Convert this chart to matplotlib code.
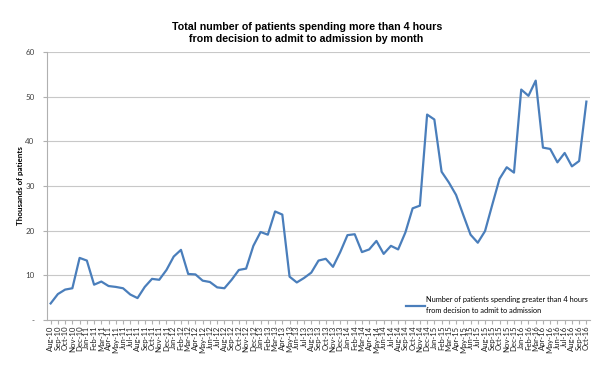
import matplotlib
matplotlib.use("Agg")
import matplotlib.pyplot as plt

months = ["Aug-10","Sep-10","Oct-10","Nov-10","Dec-10",
          "Jan-11","Feb-11","Mar-11","Apr-11","May-11","Jun-11","Jul-11","Aug-11","Sep-11","Oct-11","Nov-11","Dec-11",
          "Jan-12","Feb-12","Mar-12","Apr-12","May-12","Jun-12","Jul-12","Aug-12","Sep-12","Oct-12","Nov-12","Dec-12",
          "Jan-13","Feb-13","Mar-13","Apr-13","May-13","Jun-13","Jul-13","Aug-13","Sep-13","Oct-13","Nov-13","Dec-13",
          "Jan-14","Feb-14","Mar-14","Apr-14","May-14","Jun-14","Jul-14","Aug-14","Sep-14","Oct-14","Nov-14","Dec-14",
          "Jan-15","Feb-15","Mar-15","Apr-15","May-15","Jun-15","Jul-15","Aug-15","Sep-15","Oct-15","Nov-15","Dec-15",
          "Jan-16","Feb-16","Mar-16","Apr-16","May-16","Jun-16","Jul-16","Aug-16","Sep-16","Oct-16"]

patients = [3.7, 5.8, 6.8, 7.1, 13.9,
            13.3, 7.9, 8.6, 7.6, 7.4, 7.1, 5.7, 4.9, 7.4, 9.2, 9.0, 11.2,
            14.2, 15.7, 10.3, 10.2, 8.8, 8.5, 7.3, 7.1, 9.0, 11.2, 11.5, 16.6,
            19.7, 19.1, 24.3, 23.6, 9.7, 8.4, 9.4, 10.6, 13.3, 13.7, 11.9, 15.2,
            19.0, 19.2, 15.2, 15.8, 17.7, 14.8, 16.6, 15.8, 19.6, 25.0, 25.6, 46.0,
            44.9, 33.2, 30.8, 28.0, 23.5, 19.1, 17.3, 19.9, 25.8, 31.6, 34.2, 33.0,
            51.6, 50.2, 53.6, 38.6, 38.3, 35.3, 37.4, 34.4, 35.6, 48.9]

yticks = [0, 10, 20, 30, 40, 50, 60]
ytick_labels = ["-", "10", "20", "30", "40", "50", "60"]

title = " Total number of patients spending more than 4 hours\nfrom decision to admit to admission by month"
series_label = "Number of patients spending greater than 4 hours\nfrom decision to admit to admission"

plt.rcParams['font.family'] = ['Liberation Sans', 'DejaVu Sans']
small_font = ['Lato', 'DejaVu Sans']

fig = plt.figure(figsize=(6.06, 3.8), dpi=100)
ax = fig.add_axes([0.0776, 0.158, 0.896, 0.705])

x = list(range(len(months)))
ax.plot(x, patients, color="#4a7ebb", linewidth=1.6, label=series_label)

ax.set_xlim(-0.5, len(months) - 0.5)
ax.set_ylim(0, 60)
ax.set_yticks(yticks)
ax.set_yticklabels(ytick_labels, fontsize=5.8, family=small_font, color="#404040")
ax.set_xticks(x)
ax.set_xticklabels(months, rotation=90, fontsize=5.6, family=small_font, color="#202020")

ax.grid(axis='y', color="#c8c8c8", linewidth=0.8)
ax.set_axisbelow(True)
for s in ['top', 'right']:
    ax.spines[s].set_visible(False)
ax.spines['left'].set_color("#b0b0b0")
ax.spines['bottom'].set_color("#b0b0b0")
ax.tick_params(axis='y', length=3, color="#b0b0b0", pad=6)
ax.tick_params(axis='x', length=3, color="#b0b0b0", pad=1)

ax.set_ylabel("Thousands of patients", fontsize=5.8, fontweight='bold',
              family=small_font, labelpad=1)

fig.text(0.505, 0.884, title, ha='center', va='bottom', fontsize=7.7,
         fontweight='bold', linespacing=1.25)

leg = ax.legend(loc='lower right', bbox_to_anchor=(1.0, 0.015), frameon=False,
                handlelength=2.6, handletextpad=0.1, borderaxespad=0.0,
                borderpad=0.3, prop={'family': small_font, 'size': 5.3})
for t in leg.get_texts():
    t.set_linespacing(1.55)

fig.savefig("out.png", dpi=100)
